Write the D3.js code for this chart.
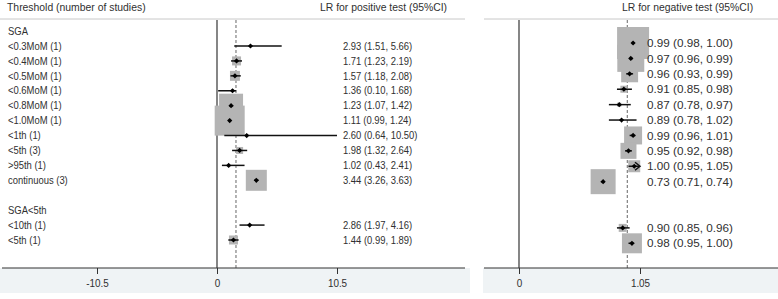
<!DOCTYPE html>
<html><head><meta charset="utf-8">
<script src="https://cdn.jsdelivr.net/npm/d3@7"></script>
<style>
html,body{margin:0;padding:0;background:#fff;}
svg{display:block;font-family:"Liberation Sans",Arial,sans-serif;}
</style></head>
<body><svg id="c" width="778" height="299"></svg>
<script>
// ---- data ----
const rowLabels = ["SGA","<0.3MoM (1)","<0.4MoM (1)","<0.5MoM (1)","<0.6MoM (1)","<0.8MoM (1)","<1.0MoM (1)","<1th (1)","<5th (3)",">95th (1)","continuous (3)","","SGA<5th","<10th (1)","<5th (1)"];
const studyRows = [1,2,3,4,5,6,7,8,9,10,13,14];
const posLR   = [2.93,1.71,1.57,1.36,1.23,1.11,2.60,1.98,1.02,3.44,2.86,1.44];
const posLow  = [1.51,1.23,1.18,0.10,1.07,0.99,0.64,1.32,0.43,3.26,1.97,0.99];
const posHigh = [5.66,2.19,2.08,1.68,1.42,1.24,10.50,2.64,2.41,3.63,4.16,1.89];
const posWeight = [0.4,9,11,1,64,100,0.4,5.4,0.4,49,0.4,9];
const negLR   = [0.99,0.97,0.96,0.91,0.87,0.89,0.99,0.95,1.00,0.73,0.90,0.98];
const negLow  = [0.98,0.96,0.93,0.85,0.78,0.78,0.96,0.92,0.95,0.71,0.85,0.95];
const negHigh = [1.00,0.99,0.99,0.98,0.97,1.02,1.01,0.98,1.05,0.74,0.96,1.00];
const negWeight = [100,71,28,4.8,1.6,0.2,31.6,25,14,61,6.25,39];
const negArrow = [false,false,false,false,false,false,false,false,true,false,false,false];
const posPooled = 1.66, negPooled = 0.94;
const posTicks = [-10.5,0,10.5];
const negTicks = [0,1.05];
const fmt = d3.format(".2f");

const svg = d3.select("#c");
const txt = "#303030";

function addText(parent, x, y, s, size, sx){
  return parent.append("text").attr("transform",`translate(${x},${y}) scale(${sx},1)`)
    .attr("dy","0.35em").attr("font-size",size).attr("fill",txt).text(s);
}

// background bands under axes
svg.append("rect").attr("x",0).attr("y",268).attr("width",470).attr("height",25).attr("fill","#eff3f5");
svg.append("rect").attr("x",483).attr("y",268).attr("width",295).attr("height",25).attr("fill","#eff3f5");

// headers
addText(svg,7,7.5,"Threshold (number of studies)",10.4,1);
addText(svg,320,7.5,"LR for positive test (95%CI)",10.4,1);
addText(svg,622,7.5,"LR for negative test (95%CI)",10.4,1);
svg.append("line").attr("x1",0).attr("x2",465).attr("y1",19).attr("y2",19).attr("stroke","#c8c8c8");
svg.append("line").attr("x1",484).attr("x2",778).attr("y1",19).attr("y2",19).attr("stroke","#c8c8c8");

function panel(opt){
  const {x, y, vals, lo, hi, w, ticks, pooled, axisX0, axisX1, textX, textSize, textSx, sizeMax, arrow} = opt;
  const g = svg.append("g");
  const size = d3.scaleSqrt().domain([0,100]).range([0,sizeMax]);
  // reference lines
  g.append("line").attr("x1",x(0)).attr("x2",x(0)).attr("y1",20).attr("y2",268).attr("stroke","#444").attr("stroke-width",1.3);
  g.append("line").attr("x1",x(pooled)).attr("x2",x(pooled)).attr("y1",20).attr("y2",268)
    .attr("stroke","#808080").attr("stroke-width",1.2).attr("stroke-dasharray","3,2");
  const data = studyRows.map((r,i)=>({r, v:vals[i], lo:lo[i], hi:hi[i], w:w[i], arrow: arrow? arrow[i]:false}));
  // boxes
  g.selectAll("rect.box").data(data).join("rect").attr("class","box")
    .attr("x",d=>x(d.v)-size(d.w)/2).attr("y",d=>y(d.r)-size(d.w)/2)
    .attr("width",d=>size(d.w)).attr("height",d=>size(d.w)).attr("fill","#b4b4b4");
  // CI lines
  g.selectAll("line.ci").data(data).join("line").attr("class","ci")
    .attr("x1",d=>x(d.lo)).attr("x2",d=>x(d.hi)).attr("y1",d=>y(d.r)).attr("y2",d=>y(d.r))
    .attr("stroke","#111").attr("stroke-width",1.5);
  // arrows
  g.selectAll("path.arr").data(data.filter(d=>d.arrow)).join("path").attr("class","arr")
    .attr("d",d=>`M${x(d.hi)-5},${y(d.r)-4}L${x(d.hi)},${y(d.r)}L${x(d.hi)-5},${y(d.r)+4}`)
    .attr("fill","none").attr("stroke","#111").attr("stroke-width",1.5);
  // points
  g.selectAll("path.pt").data(data).join("path").attr("class","pt")
    .attr("d",d=>`M${x(d.v)},${y(d.r)-2.6}L${x(d.v)+2.6},${y(d.r)}L${x(d.v)},${y(d.r)+2.6}L${x(d.v)-2.6},${y(d.r)}Z`)
    .attr("fill","#000");
  // CI text
  data.forEach(d=>addText(g,textX,y(d.r),`${fmt(d.v)} (${fmt(d.lo)}, ${fmt(d.hi)})`,textSize,textSx));
  // axis
  g.append("line").attr("x1",axisX0).attr("x2",axisX1).attr("y1",268).attr("y2",268).attr("stroke","#333").attr("stroke-width",1.2);
  const ax = g.append("g").attr("transform","translate(0,268)")
    .call(d3.axisBottom(x).tickValues(ticks).tickFormat(d=>String(d)).tickSize(6).tickPadding(5));
  ax.select(".domain").remove();
  ax.selectAll("line").attr("stroke","#333");
  ax.selectAll("text").attr("font-size",11).attr("fill",txt).attr("transform","scale(0.9,1)")
    .attr("font-family","Liberation Sans, Arial, sans-serif");
}

const xPos = d3.scaleLinear().domain([-10.5,10.5]).range([97,337]);
const yPos = d3.scaleLinear().domain([1,14]).range([46,240]);
const xNeg = d3.scaleLinear().domain([0,1.05]).range([519,640]);
const yNeg = d3.scaleLinear().domain([1,14]).range([43,243.3]);

// row labels
rowLabels.forEach((l,i)=>{ if(l) addText(svg,8,yPos(i),l,10.5,0.9); });

panel({x:xPos, y:yPos, vals:posLR, lo:posLow, hi:posHigh, w:posWeight, ticks:posTicks, pooled:posPooled,
  axisX0:2, axisX1:465, textX:343, textSize:10.5, textSx:0.9, sizeMax:30});
panel({x:xNeg, y:yNeg, vals:negLR, lo:negLow, hi:negHigh, w:negWeight, ticks:negTicks, pooled:negPooled,
  axisX0:484, axisX1:778, textX:647, textSize:11.7, textSx:1, sizeMax:32, arrow:negArrow});
</script></body></html>
